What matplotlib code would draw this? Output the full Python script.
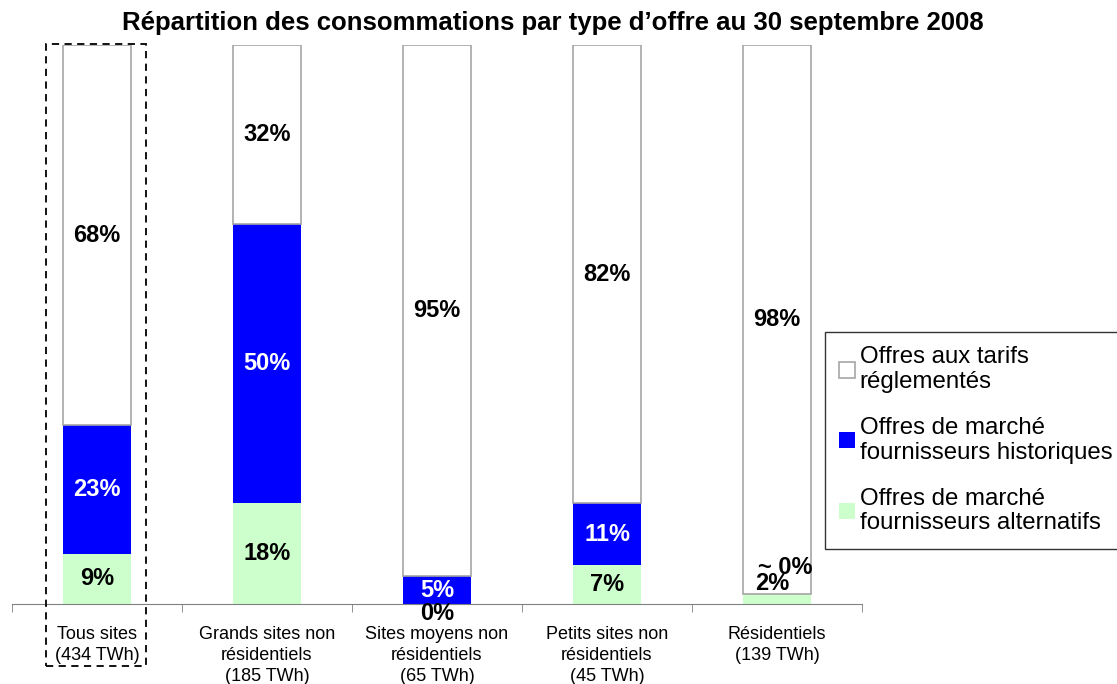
import matplotlib.pyplot as plt
from matplotlib.patches import Rectangle

plt.rcParams['font.family'] = ['Liberation Sans', 'DejaVu Sans']

# data
categories = ['Tous sites\n(434 TWh)', 'Grands sites non\nrésidentiels\n(185 TWh)',
              'Sites moyens non\nrésidentiels\n(65 TWh)', 'Petits sites non\nrésidentiels\n(45 TWh)',
              'Résidentiels\n(139 TWh)']
alternatifs = [9, 18, 0, 7, 1.7]
historiques = [23, 50, 5, 11, 0]
reglementes = [68, 32, 95, 82, 98.3]
lbl_alt = ['9%', '18%', '0%', '7%', '2%']
lbl_hist = ['23%', '50%', '5%', '11%', '~ 0%']
lbl_regl = ['68%', '32%', '95%', '82%', '98%']
series_names = ['Offres aux tarifs\nréglementés', 'Offres de marché\nfournisseurs historiques',
                'Offres de marché\nfournisseurs alternatifs']

fig = plt.figure(figsize=(11.17, 6.84), dpi=100)
ax = fig.add_axes([12 / 1117, 80 / 684, 850 / 1117, 559 / 684])

x = list(range(len(categories)))
w = 0.4
green = '#ccffcc'
blue = '#0000ff'

b_alt = ax.bar(x, alternatifs, w, color=green, linewidth=0)
b_hist = ax.bar(x, historiques, w, bottom=alternatifs, color=blue, linewidth=0)
bottom2 = [a + h for a, h in zip(alternatifs, historiques)]
b_regl = ax.bar(x, reglementes, w, bottom=bottom2, color='white', edgecolor='#a6a6a6', linewidth=1.2)

fs = 17
for i in x:
    # white segment
    ax.text(i, bottom2[i] + reglementes[i] / 2, lbl_regl[i], ha='center', va='center',
            fontsize=fs, fontweight='bold')
    # blue segment
    if i == 4:
        ax.text(i + 0.05, 6.6, lbl_hist[i], ha='center', va='center', fontsize=fs, fontweight='bold')
    else:
        ax.text(i, alternatifs[i] + historiques[i] / 2, lbl_hist[i], ha='center', va='center',
                fontsize=fs, fontweight='bold', color='white')
    # green segment
    if i == 2:
        ax.text(i, -1.7, lbl_alt[i], ha='center', va='center', fontsize=fs, fontweight='bold')
    elif i == 4:
        ax.text(i - 0.03, 3.7, lbl_alt[i], ha='center', va='center', fontsize=fs, fontweight='bold')
    else:
        ax.text(i, alternatifs[i] / 2, lbl_alt[i], ha='center', va='center', fontsize=fs, fontweight='bold')

ax.set_xlim(-0.5, 4.5)
ax.set_ylim(0, 100)
for s in ['top', 'right', 'left']:
    ax.spines[s].set_visible(False)
ax.spines['bottom'].set_color('#808080')
ax.set_yticks([])
ax.set_xticks(x)
ax.set_xticklabels(categories, fontsize=13, linespacing=1.3, va='top')
ax.tick_params(axis='x', which='major', length=0, pad=16)
ax.set_xticks([i - 0.5 for i in range(6)], minor=True)
ax.tick_params(axis='x', which='minor', length=6, color='#808080', direction='out')

# dashed box around "Tous sites"
box = Rectangle((46 / 1117, (684 - 666) / 684), 100 / 1117, 622 / 684, transform=fig.transFigure,
                fill=False, linestyle=(0, (4, 3)), linewidth=1.3, edgecolor='black')
fig.add_artist(box)

fig.text(553 / 1117, 1 - 23 / 684, 'Répartition des consommations par type d’offre au 30 septembre 2008',
         ha='center', va='center', fontsize=18.5, fontweight='bold')

leg = fig.legend([b_regl, b_hist, b_alt], series_names, loc='upper left',
                 bbox_to_anchor=(825 / 1117, 1 - 332 / 684), fontsize=17.3, frameon=True,
                 fancybox=False, edgecolor='black', handlelength=0.65, handleheight=0.65,
                 handletextpad=0.2, labelspacing=1.0, borderaxespad=0, borderpad=0.6)
leg.get_frame().set_linewidth(1)
for t in leg.get_texts():
    t.set_linespacing(1.15)

fig.savefig('out.png', dpi=100)
